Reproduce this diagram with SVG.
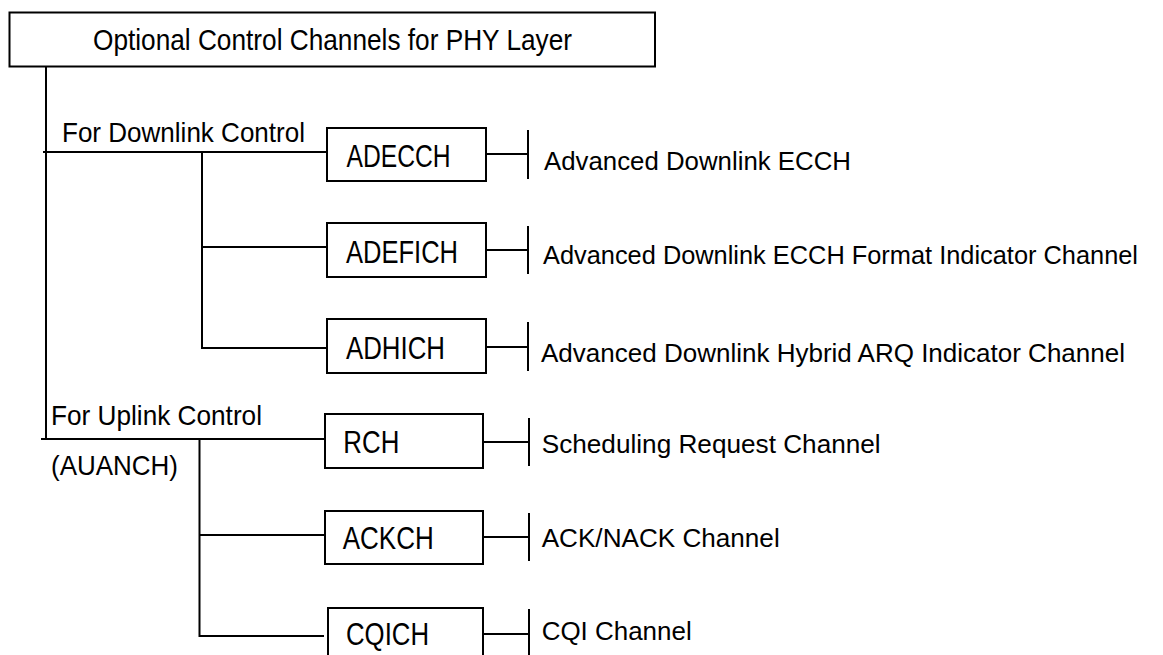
<svg xmlns="http://www.w3.org/2000/svg" width="1163" height="655" viewBox="0 0 1163 655">
<style>
  .box{fill:#fff;stroke:#000;stroke-width:2}
  .ln{stroke:#000;stroke-width:2;fill:none}
  text{font-family:"Liberation Sans",Arial,sans-serif;fill:#000}
  .t{font-size:29px}
  .l{font-size:28px}
  .b{font-size:31px}
  .r{font-size:26.5px}
</style>
<rect width="1163" height="655" fill="#fff"/>
<g id="connectors">
  <path class="ln" d="M46,66 V439"/>
  <path class="ln" d="M43,152 H326"/>
  <path class="ln" d="M202,152 V348 H326"/>
  <path class="ln" d="M202,247 H326"/>
  <path class="ln" d="M41,439 H324"/>
  <path class="ln" d="M199.5,439 V636 H324"/>
  <path class="ln" d="M199.5,535 H324"/>
  <path class="ln" d="M486,154 H528 M528,130 V179"/>
  <path class="ln" d="M486,250 H528 M528,226 V274"/>
  <path class="ln" d="M486,347 H528 M528,322 V371"/>
  <path class="ln" d="M483,442 H529 M529,418 V466"/>
  <path class="ln" d="M483,537 H529 M529,513 V561"/>
  <path class="ln" d="M483,634 H529 M529,609 V660"/>
</g>
<g id="title">
  <rect class="box" x="9.5" y="12.5" width="645.5" height="54"/>
  <text class="t" x="93" y="50" textLength="479" lengthAdjust="spacingAndGlyphs">Optional Control Channels for PHY Layer</text>
</g>
<g id="downlink-label">
  <text class="l" x="62" y="142.3" textLength="243" lengthAdjust="spacingAndGlyphs">For Downlink Control</text>
</g>
<g id="uplink-label">
  <text class="l" x="51" y="425" textLength="211" lengthAdjust="spacingAndGlyphs">For Uplink Control</text>
  <text class="l" x="51" y="475" textLength="127" lengthAdjust="spacingAndGlyphs">(AUANCH)</text>
</g>
<g id="adecch">
  <rect class="box" x="327" y="128" width="159" height="53"/>
  <text class="b" x="346.5" y="166.7" textLength="104" lengthAdjust="spacingAndGlyphs">ADECCH</text>
  <text class="r" x="544" y="170" textLength="307" lengthAdjust="spacingAndGlyphs">Advanced Downlink ECCH</text>
</g>
<g id="adefich">
  <rect class="box" x="327" y="223" width="159" height="54"/>
  <text class="b" x="346" y="262.7" textLength="112" lengthAdjust="spacingAndGlyphs">ADEFICH</text>
  <text class="r" x="543" y="264.3" textLength="595" lengthAdjust="spacingAndGlyphs">Advanced Downlink ECCH Format Indicator Channel</text>
</g>
<g id="adhich">
  <rect class="box" x="327" y="319" width="159" height="54"/>
  <text class="b" x="346" y="359.3" textLength="99" lengthAdjust="spacingAndGlyphs">ADHICH</text>
  <text class="r" x="541" y="361.7" textLength="584" lengthAdjust="spacingAndGlyphs">Advanced Downlink Hybrid ARQ Indicator Channel</text>
</g>
<g id="rch">
  <rect class="box" x="325" y="414" width="158" height="54"/>
  <text class="b" x="343.3" y="452.7" textLength="56" lengthAdjust="spacingAndGlyphs">RCH</text>
  <text class="r" x="541.7" y="453.3" textLength="339" lengthAdjust="spacingAndGlyphs">Scheduling Request Channel</text>
</g>
<g id="ackch">
  <rect class="box" x="325" y="511" width="158" height="53"/>
  <text class="b" x="342.7" y="549.3" textLength="91" lengthAdjust="spacingAndGlyphs">ACKCH</text>
  <text class="r" x="541.7" y="546.7" textLength="238" lengthAdjust="spacingAndGlyphs">ACK/NACK Channel</text>
</g>
<g id="cqich">
  <rect class="box" x="328" y="608" width="155" height="62"/>
  <text class="b" x="346" y="645" textLength="83" lengthAdjust="spacingAndGlyphs">CQICH</text>
  <text class="r" x="541.7" y="640" textLength="150" lengthAdjust="spacingAndGlyphs">CQI Channel</text>
</g>
</svg>
